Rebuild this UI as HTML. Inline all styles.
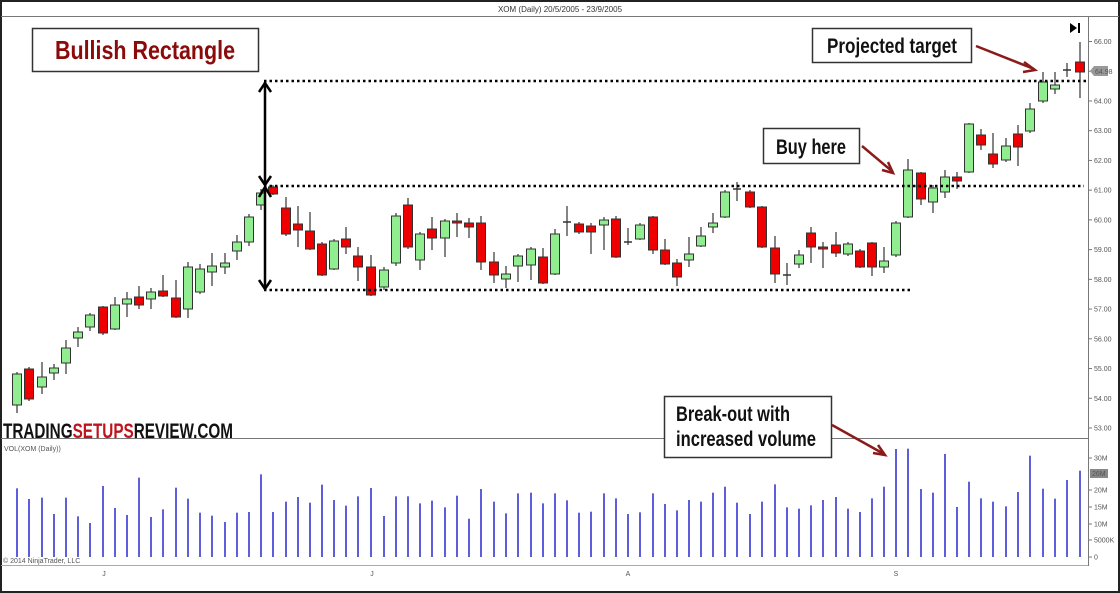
<!DOCTYPE html>
<html><head><meta charset="utf-8">
<style>
html,body{margin:0;padding:0;background:#fff;}
svg{display:block;}
.ax{font-family:"Liberation Sans",sans-serif;font-size:7px;fill:#555;}
.ann{font-family:"Liberation Sans Narrow","Liberation Sans",sans-serif;font-weight:bold;}
</style></head>
<body>
<svg id="s" width="1120" height="593" viewBox="0 0 1120 593" xmlns="http://www.w3.org/2000/svg">
<rect x="0" y="0" width="1120" height="593" fill="#fff"/>
<rect x="1" y="1" width="1118" height="591" fill="none" stroke="#222" stroke-width="2"/>
<line x1="1" y1="16.5" x2="1119" y2="16.5" stroke="#777" stroke-width="1"/>
<text x="560" y="12" text-anchor="middle" font-family="Liberation Sans,sans-serif" font-size="8" fill="#333">XOM (Daily)  20/5/2005 - 23/9/2005</text>
<line x1="1088.5" y1="17" x2="1088.5" y2="566" stroke="#777"/>
<line x1="1" y1="438.5" x2="1088" y2="438.5" stroke="#777"/>
<line x1="1" y1="565.5" x2="1088" y2="565.5" stroke="#aaa"/>
<g id="pax"></g>
<g id="vax"></g>
<text x="4" y="451" class="ax">VOL(XOM (Daily))</text>
<text x="3" y="563" class="ax" font-size="6">© 2014 NinjaTrader, LLC</text>
<text x="104" y="576" class="ax" text-anchor="middle">J</text>
<text x="372" y="576" class="ax" text-anchor="middle">J</text>
<text x="628" y="576" class="ax" text-anchor="middle">A</text>
<text x="896" y="576" class="ax" text-anchor="middle">S</text>
<polygon points="1090,71 1094,66 1108,66 1108,76 1094,76" fill="#999"/>
<text x="1095" y="74" class="ax" fill="#fff" font-size="6.5">64.98</text>
<rect x="1090" y="469" width="18" height="9" fill="#888"/>
<text x="1092" y="476" class="ax" fill="#fff" font-size="6.5">26M</text>
<g id="vol"></g>
<g id="cand"></g>
<g stroke="#000" stroke-width="2.5" stroke-dasharray="2.5,3">
<line x1="264" y1="81" x2="1086" y2="81"/>
<line x1="264" y1="186" x2="1084" y2="186"/>
<line x1="264" y1="290" x2="912" y2="290"/>
</g>
<g stroke="#000" stroke-width="2.5" fill="none">
<line x1="265" y1="82" x2="265" y2="185"/>
<polyline points="259,176 265,185 271,176"/>
<polyline points="259,92 265,83 271,92"/>
<line x1="265" y1="188" x2="265" y2="289"/>
<polyline points="259,197 265,187 271,197"/>
<polyline points="259,280 265,289 271,280"/>
</g>
<polygon points="1070,23 1070,33 1077,28" fill="#000"/>
<rect x="1078" y="23" width="2" height="10" fill="#000"/>
<rect x="32.5" y="28.5" width="226" height="43" fill="#fff" stroke="#333" stroke-width="1.5"/>
<text x="145" y="59" text-anchor="middle" class="ann" font-size="26" fill="#8b0a0a" textLength="180" lengthAdjust="spacingAndGlyphs">Bullish Rectangle</text>
<rect x="812.5" y="28.5" width="159" height="34" fill="#fff" stroke="#333" stroke-width="1.5"/>
<text x="892" y="53" text-anchor="middle" class="ann" font-size="21" fill="#111" textLength="130" lengthAdjust="spacingAndGlyphs">Projected target</text>
<rect x="763.5" y="128.5" width="96" height="35" fill="#fff" stroke="#333" stroke-width="1.5"/>
<text x="811" y="154" text-anchor="middle" class="ann" font-size="21" fill="#111" textLength="70" lengthAdjust="spacingAndGlyphs">Buy here</text>
<rect x="664.5" y="396.5" width="167" height="61" fill="#fff" stroke="#333" stroke-width="1.5"/>
<text x="676" y="421" class="ann" font-size="21" fill="#111" textLength="114" lengthAdjust="spacingAndGlyphs">Break-out with</text>
<text x="676" y="446" class="ann" font-size="21" fill="#111" textLength="140" lengthAdjust="spacingAndGlyphs">increased volume</text>
<g stroke="#8b1a1a" stroke-width="2.5" fill="none">
<line x1="976" y1="46" x2="1034" y2="69"/>
<polyline points="1024,62 1035,70 1023,72"/>
<line x1="862" y1="146" x2="893" y2="172"/>
<polyline points="882,170 893,173 888,162"/>
<line x1="832" y1="425" x2="884" y2="454"/>
<polyline points="873,453 885,455 878,445"/>
</g>
<text x="3" y="438" font-family="Liberation Sans Narrow,Liberation Sans,sans-serif" font-weight="bold" font-size="21" textLength="230" lengthAdjust="spacingAndGlyphs"><tspan fill="#111">TRADING</tspan><tspan fill="#c0141c">SETUPS</tspan><tspan fill="#111">REVIEW.COM</tspan></text>
</svg>
<script>
var NS="http://www.w3.org/2000/svg";
function el(p,t,a){var e=document.createElementNS(NS,t);for(var k in a)e.setAttribute(k,a[k]);p.appendChild(e);return e;}
var pax=document.getElementById('pax');
for(var p=66;p>=53;p--){var y=41.5+(66-p)*29.73;el(pax,'line',{x1:1088,y1:y,x2:1092,y2:y,stroke:'#777'});
 if(p!==65){var t=el(pax,'text',{x:1094,y:y+2.5,'class':'ax'});t.textContent=p+'.00';}}
var vax=document.getElementById('vax');
[[458,'30M'],[490,'20M'],[507,'15M'],[524,'10M'],[540,'5000K'],[557,'0']].forEach(function(a){
 el(vax,'line',{x1:1088,y1:a[0],x2:1092,y2:a[0],stroke:'#777'});var t=el(vax,'text',{x:1094,y:a[0]+2.5,'class':'ax'});t.textContent=a[1];});
var C=[[17,374,405,372,413,1],[29,369,399,367,401,0],[42,377,387,362,394,1],[54,368,373,364,380,1],[66,348,363,340,374,1],[78,332,338,327,347,1],[90,315,327,313,331,1],[103,307,333,306,335,0],[115,305,329,297,330,1],[127,299,304,292,317,1],[139,297,305,286,309,0],[151,292,299,288,309,1],[163,291,296,275,297,0],[176,298,317,280,318,0],[188,267,309,262,318,1],[200,269,292,264,294,1],[212,266,272,253,286,1],[225,263,267,253,274,1],[237,242,251,235,260,1],[249,217,242,214,246,1],[261,193,205,189,210,1],[273,187,194,185,195,0],[286,208,234,197,236,0],[298,224,230,206,247,0],[310,231,249,212,250,0],[322,244,275,242,276,0],[334,241,269,239,270,1],[346,239,247,227,254,0],[358,256,267,247,281,0],[371,267,295,255,296,0],[384,270,287,267,290,1],[396,216,263,213,266,1],[408,205,247,198,249,0],[420,234,260,232,270,1],[432,229,238,217,250,0],[445,221,238,219,257,1],[457,221,223,213,237,0],[469,223,227,218,238,0],[481,223,262,216,270,0],[494,262,275,252,283,0],[506,274,279,266,288,1],[518,256,266,254,282,1],[531,249,265,247,280,1],[543,257,283,248,284,0],[555,234,274,229,275,1],[567,222,223,206,236,1],[579,224,232,222,234,0],[591,226,232,223,254,0],[604,220,225,217,250,1],[616,219,257,216,258,0],[628,242,243,228,245,1],[640,225,239,223,240,1],[653,217,250,216,254,0],[665,250,264,239,265,0],[677,263,277,259,286,0],[689,254,260,237,267,1],[701,236,246,227,247,1],[713,223,227,213,233,1],[725,192,217,190,218,1],[737,189,190,182,201,1],[750,192,207,190,208,0],[762,207,247,206,248,0],[775,248,274,236,283,0],[787,275,276,263,285,1],[799,255,264,250,268,1],[811,233,247,227,263,0],[823,247,249,242,268,0],[836,245,253,232,257,0],[848,244,254,242,256,1],[860,251,267,249,268,0],[872,243,267,242,276,0],[884,261,267,247,273,1],[896,223,255,221,257,1],[908,170,217,159,218,1],[921,173,199,172,205,0],[933,188,202,185,213,1],[945,177,192,170,198,1],[957,177,181,172,189,0],[969,124,172,123,173,1],[981,135,145,129,150,0],[993,154,164,133,168,0],[1006,146,160,138,162,1],[1018,134,147,125,166,0],[1030,109,131,103,133,1],[1043,82,101,72,103,1],[1055,85,89,72,94,1],[1067,70,71,63,77,0],[1080,62,72,42,98,0]];
var cg=document.getElementById('cand');
C.forEach(function(c){
 el(cg,'line',{x1:c[0],y1:c[3],x2:c[0],y2:c[4],stroke:'#333','stroke-width':1.2});
 var h=c[2]-c[1];
 if(h<2){el(cg,'line',{x1:c[0]-4,y1:c[1],x2:c[0]+4,y2:c[1],stroke:'#333','stroke-width':1.5});}
 else el(cg,'rect',{x:c[0]-4.5,y:c[1],width:9,height:h,fill:c[5]?'#90ee90':'#ee0000',stroke:'#333','stroke-width':1});
});
var V=[175,207,203,252,203,259,279,168,234,255,143,261,238,173,206,248,257,276,248,246,133,246,215,201,218,164,210,227,199,174,258,199,199,220,212,232,197,266,177,215,250,190,188,220,190,211,248,245,190,205,252,247,190,222,241,210,215,188,170,218,252,215,163,232,236,226,210,201,236,246,205,170,57,56,177,188,72,231,155,205,215,229,186,77,176,206,150,122];
var vg=document.getElementById('vol');
V.forEach(function(v,i){var x=C[i]?C[i][0]:17+i*12.2;
 el(vg,'line',{x1:x,y1:430+v/3,x2:x,y2:557,stroke:'#1a1acc','stroke-width':1.4});});
</script>
</body></html>
